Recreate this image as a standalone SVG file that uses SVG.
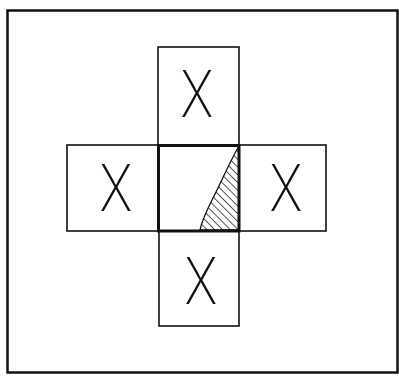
<svg xmlns="http://www.w3.org/2000/svg" width="399" height="377" viewBox="0 0 399 377">
<style>
.box{fill:none;stroke:#111;stroke-width:1.6}
.thick{fill:none;stroke:#111;stroke-width:3}
.x{font-family:Inter,"DejaVu Sans","Liberation Sans",sans-serif;font-weight:200;font-size:64px;fill:#111;text-anchor:middle}
</style>
<defs>
<pattern id="hatch" patternUnits="userSpaceOnUse" width="5.5" height="5.5" patternTransform="rotate(-45)">
<line x1="0" y1="0" x2="0" y2="5.5" stroke="#111" stroke-width="1.4"/>
</pattern>
</defs>
<rect width="399" height="377" fill="#fff"/>
<g id="frame"><rect x="7.5" y="10.5" width="390" height="362" fill="none" stroke="#111" stroke-width="2.5"/></g>
<g id="top"><rect class="box" x="158" y="47" width="81" height="98"/><text class="x" transform="translate(197,117) scale(0.8,1)">X</text></g>
<g id="left"><rect class="box" x="67" y="145" width="91" height="86"/><text class="x" transform="translate(116,211) scale(0.8,1)">X</text></g>
<g id="right"><rect class="box" x="239" y="145" width="87" height="86"/><text class="x" transform="translate(286,211) scale(0.8,1)">X</text></g>
<g id="bottom"><rect class="box" x="159" y="231" width="80" height="95"/><text class="x" transform="translate(201,304) scale(0.8,1)">X</text></g>
<g id="center">
<path d="M239,146 C228,165 220,185 212,200 C206,212 202,220 200,230 L239,230 Z" fill="url(#hatch)" stroke="#111" stroke-width="1.3"/>
<rect class="thick" x="158.5" y="145.5" width="80.5" height="85.5"/>
</g>
</svg>
